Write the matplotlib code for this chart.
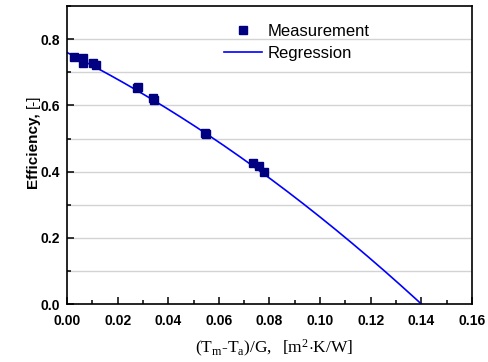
import numpy as np
import matplotlib
matplotlib.use("Agg")
import matplotlib.pyplot as plt
from matplotlib.ticker import MultipleLocator, FormatStrFormatter
from matplotlib.lines import Line2D

plt.rcParams["font.family"] = ["Liberation Sans", "DejaVu Sans"]
plt.rcParams["mathtext.fontset"] = "custom"
plt.rcParams["mathtext.rm"] = "Liberation Serif"
plt.rcParams["mathtext.it"] = "Liberation Serif:italic"

# Measured collector efficiency vs reduced temperature difference
x_meas = [0.0028, 0.0062, 0.0065, 0.0104, 0.0115, 0.0275, 0.0282,
          0.0339, 0.0344, 0.0546, 0.0550, 0.0736, 0.0760, 0.0778]
eta_meas = [0.745, 0.742, 0.727, 0.729, 0.722, 0.652, 0.655,
            0.624, 0.618, 0.517, 0.515, 0.425, 0.417, 0.400]

# Quadratic efficiency regression: eta = eta0 - a1*x - a2*x^2
eta0 = 0.760
a1 = 3.83
a2 = 11.4
x_fit_max = 0.14

fig = plt.figure(figsize=(4.89, 3.62), dpi=100)
ax = fig.add_axes([0.137, 0.160, 0.828, 0.823])

for y in np.arange(0.1, 0.9, 0.1):
    ax.axhline(y, color="#d3d3d3", lw=1.0, zorder=0)

xf = np.linspace(0, x_fit_max, 200)
ax.plot(xf, eta0 - a1 * xf - a2 * xf ** 2, color="#0000ff", lw=1.2, zorder=2)
ax.plot(x_meas, eta_meas, ls="none", marker="s", ms=5.2, color="#000080", zorder=3)

ax.set_xlim(0, 0.16)
ax.set_ylim(0, 0.9)
ax.xaxis.set_major_locator(MultipleLocator(0.02))
ax.xaxis.set_minor_locator(MultipleLocator(0.01))
ax.yaxis.set_major_locator(MultipleLocator(0.2))
ax.yaxis.set_minor_locator(MultipleLocator(0.1))
ax.xaxis.set_major_formatter(FormatStrFormatter("%.2f"))
ax.yaxis.set_major_formatter(FormatStrFormatter("%.1f"))
ax.tick_params(which="both", direction="in", width=1.1)
ax.tick_params(which="major", length=5, labelsize=10)
ax.tick_params(axis="x", which="major", pad=7)
ax.tick_params(axis="y", which="major", pad=5)
ax.tick_params(which="minor", length=3)
for lab in ax.get_xticklabels() + ax.get_yticklabels():
    lab.set_fontweight("bold")
for s in ax.spines.values():
    s.set_linewidth(1.2)

handles = [Line2D([], [], ls="none", marker="s", ms=5.2, color="#000080"),
           Line2D([], [], color="#0000ff", lw=1.2)]
ax.legend(handles, ["Measurement", "Regression"], loc="upper left",
          bbox_to_anchor=(0.388, 0.94), frameon=False, fontsize=12,
          borderpad=0, borderaxespad=0, handlelength=2.3, handletextpad=0.3,
          labelspacing=0.4)

fig.text(0.068, 0.586, "Efficiency,", rotation=90, fontsize=11, fontweight="bold",
         ha="center", va="center")
fig.text(0.068, 0.721, "[-]", rotation=90, fontsize=11, ha="center", va="center")

fig.text(0.56, 0.038,
         r"$\mathrm{(T_m\text{-}T_a)/G,\ \ [m^2{\cdot}K/W]}$",
         fontsize=12.5, ha="center", va="center")

fig.savefig("out.png", dpi=100)
